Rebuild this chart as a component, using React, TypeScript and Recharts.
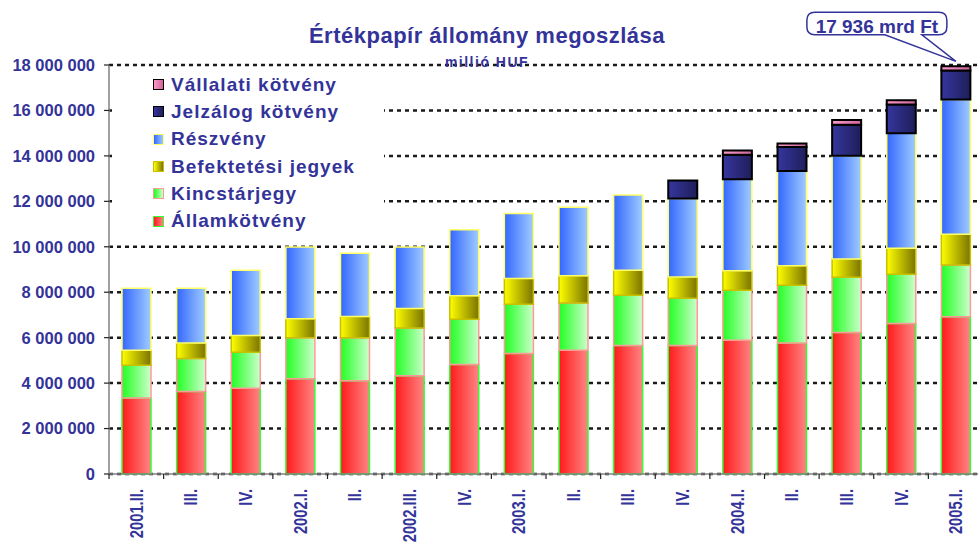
import React from "react";
import { BarChart, Bar, XAxis, YAxis, CartesianGrid, Legend, Rectangle } from "recharts";

// quarter labels along the x axis
const quarters = [
  "2001.II.", "III.", "IV.", "2002.I.", "II.", "2002.III.", "IV.", "2003.I.",
  "II.", "III.", "IV.", "2004.I.", "II.", "III.", "IV.", "2005.I.",
];

// millió HUF
const allamkotveny = [3350000, 3630000, 3770000, 4190000, 4100000, 4320000, 4820000, 5300000, 5450000, 5660000, 5660000, 5890000, 5770000, 6230000, 6620000, 6920000];
const kincstarjegy = [1440000, 1450000, 1590000, 1810000, 1900000, 2100000, 1990000, 2170000, 2080000, 2210000, 2080000, 2200000, 2540000, 2430000, 2170000, 2280000];
const befektetesi = [660000, 680000, 740000, 830000, 930000, 860000, 1030000, 1130000, 1200000, 1100000, 930000, 860000, 850000, 800000, 1140000, 1350000];
const reszveny = [2730000, 2420000, 2870000, 3160000, 2780000, 2710000, 2910000, 2860000, 3010000, 3310000, 3460000, 4020000, 4170000, 4550000, 5070000, 5930000];
const jelzalog = [0, 0, 0, 0, 0, 0, 0, 0, 0, 0, 790000, 1080000, 1060000, 1360000, 1260000, 1280000];
const vallalati = [0, 0, 0, 0, 0, 0, 0, 0, 0, 0, 0, 190000, 150000, 210000, 190000, 180000];

const yTicks = [0, 2000000, 4000000, 6000000, 8000000, 10000000, 12000000, 14000000, 16000000, 18000000];

const title = "Értékpapír állomány megoszlása";
const unit = "millió HUF";
const calloutText = "17 936 mrd Ft";

const TEXT = "#333399";
const FONT = "'Liberation Sans', Arial, sans-serif";
const LAST = quarters.length - 1;

// bottom to top
const series = [
  { key: "allam", name: "Államkötvény", from: "#ff1a1a", to: "#ff8585", stroke: "#33ff33" },
  { key: "kincs", name: "Kincstárjegy", from: "#22ff22", to: "#ccffcc", stroke: "#ff9999" },
  { key: "befekt", name: "Befektetési jegyek", from: "#ffff00", to: "#7a7400", stroke: "#c8c000" },
  { key: "reszv", name: "Részvény", from: "#3366ff", to: "#a0ccff", stroke: "#ffff66" },
  { key: "jelz", name: "Jelzálog kötvény", from: "#36369e", to: "#1e1e5a", stroke: "#000000" },
  { key: "vall", name: "Vállalati kötvény", from: "#ff99cc", to: "#cc6699", stroke: "#000000" },
];

const data = quarters.map((q, i) => ({
  idx: i,
  allam: allamkotveny[i],
  kincs: kincstarjegy[i],
  befekt: befektetesi[i],
  reszv: reszveny[i],
  jelz: jelzalog[i],
  vall: vallalati[i],
}));

const fmt = (v: number) => String(v).replace(/\B(?=(\d{3})+(?!\d))/g, " ");

const QuarterTick = (props: any) => {
  const { x, y, payload, index } = props;
  const half = payload && typeof payload.offset === "number" && payload.offset > 0 ? payload.offset : 27.3;
  const ty = y + 15;
  return (
    <g>
      <line x1={x - half} x2={x - half} y1={y} y2={y + 5} stroke="#222" strokeWidth={1.2} />
      {index === LAST && <line x1={x + half} x2={x + half} y1={y} y2={y + 5} stroke="#222" strokeWidth={1.2} />}
      <text
        transform={`translate(${x}, ${ty}) rotate(-90) scale(0.82, 1)`}
        textAnchor="end"
        dominantBaseline="central"
        fill={TEXT}
        fontSize={18}
        fontWeight="bold"
        fontFamily={FONT}
      >
        {quarters[payload.value]}
      </text>
    </g>
  );
};

const renderLegend = () => (
  <div style={{ background: "#fff", width: 272, height: 166, paddingTop: 1, boxSizing: "border-box" }}>
    {[...series].reverse().map((s) => (
      <div key={s.key} style={{ display: "flex", alignItems: "center", height: 27.3, paddingLeft: 41 }}>
        <span
          style={{
            display: "inline-block",
            width: 9,
            height: 9,
            border: `1.5px solid ${s.stroke}`,
            background: `linear-gradient(to right, ${s.from}, ${s.to})`,
            marginRight: 7,
          }}
        />
        <span style={{ color: TEXT, fontSize: 19, fontWeight: "bold", letterSpacing: 1, fontFamily: FONT, whiteSpace: "nowrap" }}>
          {s.name}
        </span>
      </div>
    ))}
  </div>
);

// the top segment; the last one also carries the total callout
const TopShape = (props: any) => {
  const { x, y, width } = props;
  const i = props.payload && typeof props.payload.idx === "number" ? props.payload.idx : props.index;
  let callout = null;
  if (i === LAST) {
    const cx = x + width / 2;
    const L = cx - 149;
    const R = cx - 9;
    const T = y - 54;
    const B = y - 31.5;
    const r = 8;
    const d = `M${L + r},${T} H${R - r} Q${R},${T} ${R},${T + r} V${B - r} Q${R},${B} ${R - r},${B} H${cx - 34} L${cx},${y - 5} L${cx - 71},${B} H${L + r} Q${L},${B} ${L},${B - r} V${T + r} Q${L},${T} ${L + r},${T} Z`;
    callout = (
      <g>
        <path d={d} fill="#fff" stroke={TEXT} strokeWidth={1.5} />
        <text x={cx - 79} y={y - 33} textAnchor="middle" fill={TEXT} fontSize={19} fontWeight="bold" fontFamily={FONT}>
          {calloutText}
        </text>
      </g>
    );
  }
  return (
    <g>
      <Rectangle {...props} />
      {callout}
    </g>
  );
};

export default function App() {
  return (
    <div style={{ position: "absolute", left: 0, top: 0, width: 978, height: 545, overflow: "hidden", background: "#fff" }}>
      <BarChart width={983} height={545} data={data} margin={{ top: 65, right: 0, bottom: 0, left: 0 }}>
        <defs>
          {series.map((s) => (
            <linearGradient key={s.key} id={`g-${s.key}`} x1="0" y1="0" x2="1" y2="0">
              <stop offset="0%" stopColor={s.from} />
              <stop offset="100%" stopColor={s.to} />
            </linearGradient>
          ))}
        </defs>
        <CartesianGrid vertical={false} strokeDasharray="4 4" stroke="#1a1a1a" strokeWidth={2.5} />
        <XAxis
          dataKey="idx"
          height={71}
          interval={0}
          tickLine={false}
          tickSize={0}
          tickMargin={0}
          axisLine={{ stroke: "#808080", strokeWidth: 1.5 }}
          tick={<QuarterTick />}
        />
        <YAxis
          width={109}
          domain={[0, 18000000]}
          ticks={yTicks}
          interval={0}
          tickFormatter={fmt}
          tickSize={5}
          tickMargin={9}
          axisLine={{ stroke: "#808080", strokeWidth: 1.5 }}
          tickLine={{ stroke: "#222", strokeWidth: 1.2 }}
          tick={{ fill: TEXT, fontSize: 16.5, fontWeight: "bold", fontFamily: FONT }}
        />
        <Legend
          layout="horizontal"
          verticalAlign="middle"
          align="center"
          content={renderLegend}
          wrapperStyle={{ left: 112, top: 70, width: 272, height: 166 }}
        />
        {series.map((s) => (
          <Bar
            key={s.key}
            dataKey={s.key}
            name={s.name}
            stackId="a"
            barSize={29}
            fill={`url(#g-${s.key})`}
            stroke={s.stroke}
            strokeWidth={s.stroke === "#000000" ? 2 : 1.5}
            isAnimationActive={false}
            shape={s.key === "vall" ? <TopShape /> : undefined}
          />
        ))}
      </BarChart>
      <svg width={978} height={545} style={{ position: "absolute", left: 0, top: 0, pointerEvents: "none" }}>
        <text x={487} y={43} textAnchor="middle" fill={TEXT} fontSize={22} fontWeight="bold" letterSpacing={0.5} fontFamily={FONT}>
          {title}
        </text>
        <text x={487} y={67} textAnchor="middle" fill={TEXT} fontSize={14} fontWeight="bold" letterSpacing={1.5} fontFamily={FONT}>
          {unit}
        </text>
      </svg>
    </div>
  );
}
